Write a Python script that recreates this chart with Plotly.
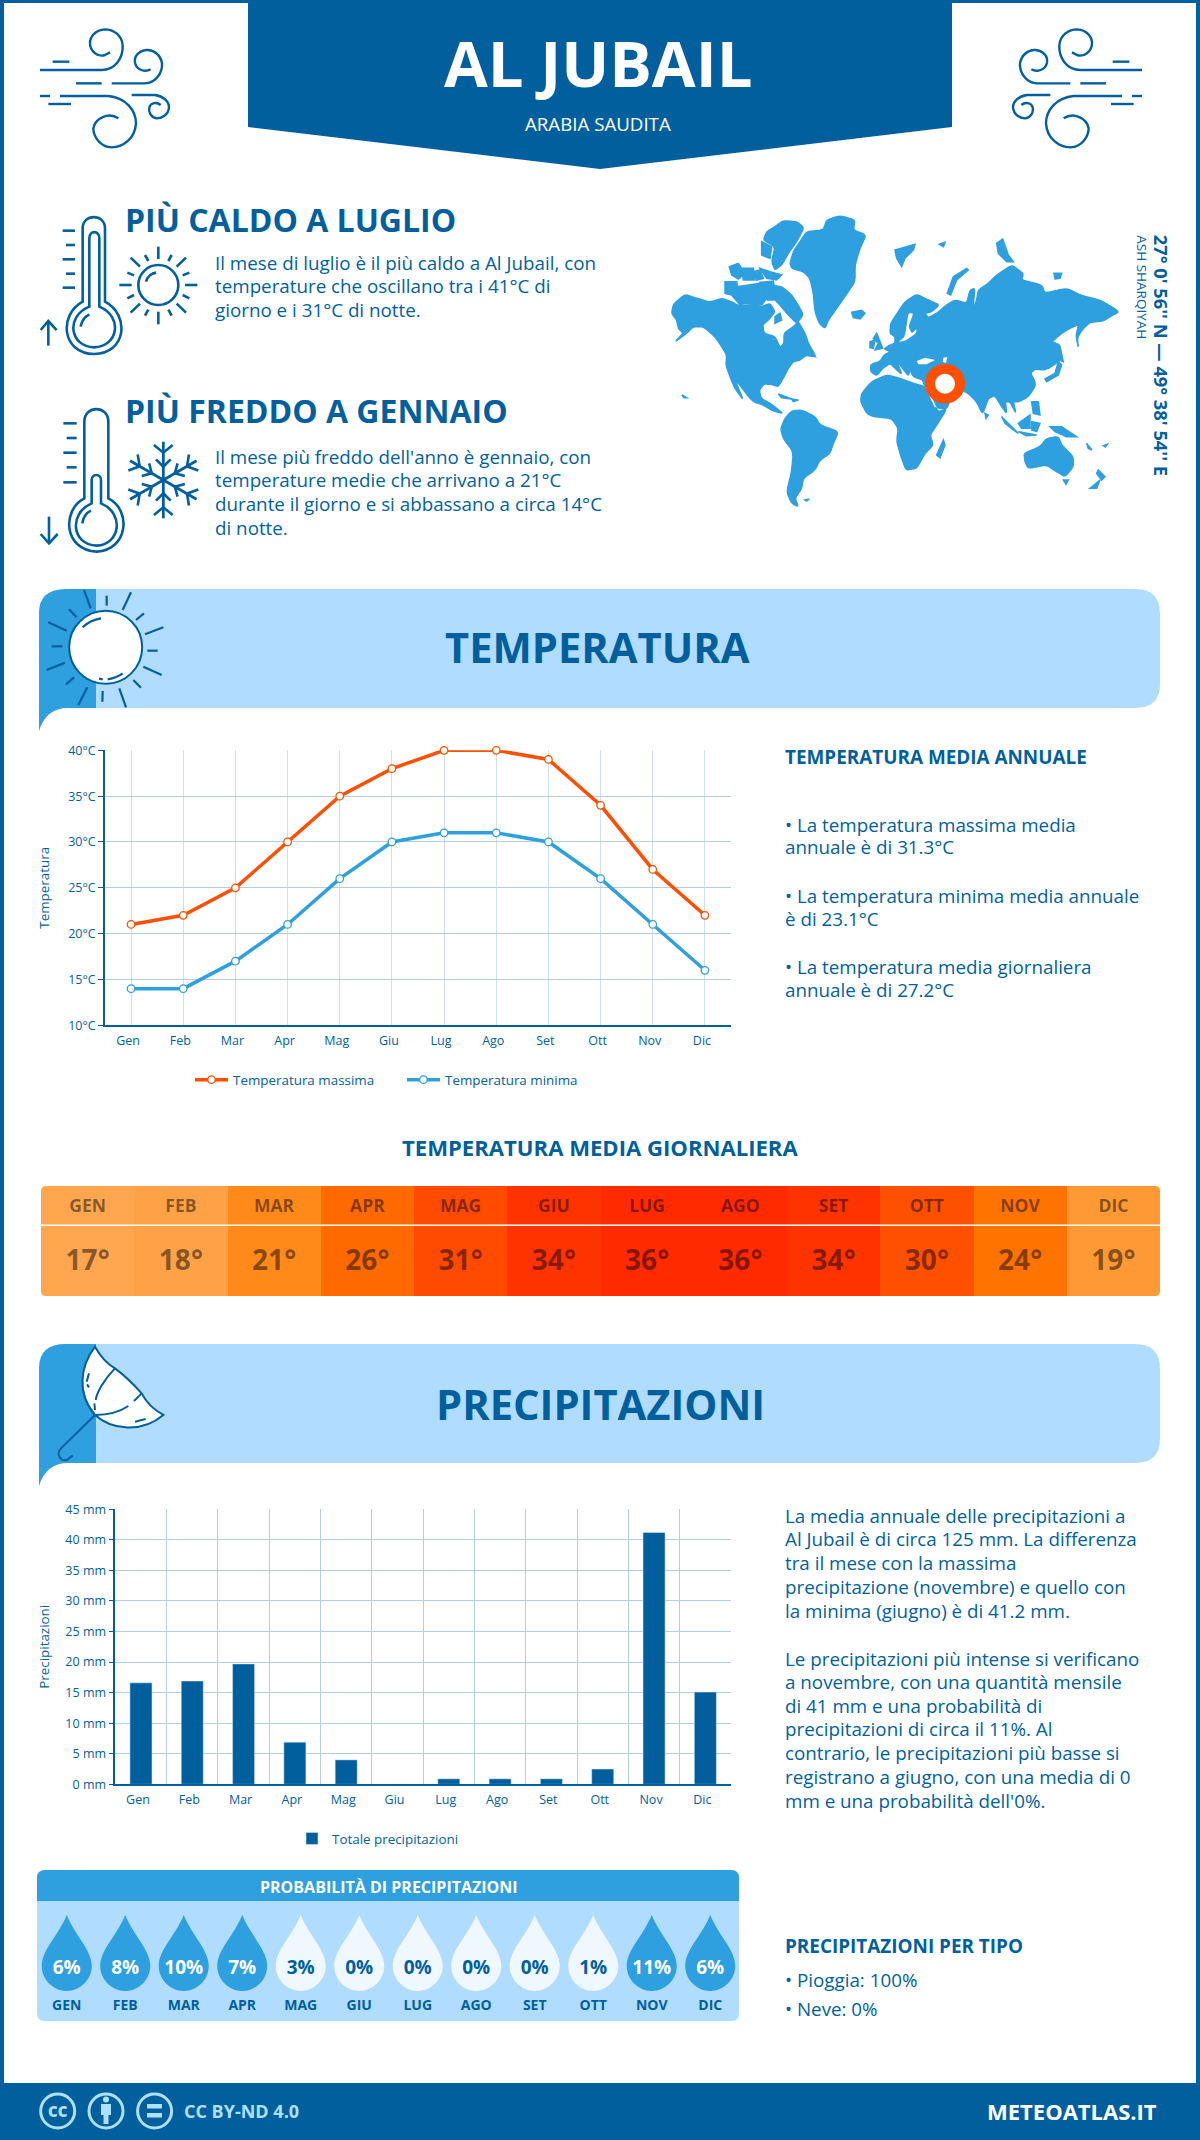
"""
Meteoatlas style climate poster for Al Jubail, drawn as one Plotly figure.
Charts use normal axes, everything decorative is paper shapes placed in pixels.
"""

import math
import re

import plotly.graph_objects as go

W, H = 1200, 2140
FONT = "Open Sans"
BLUE = "#015f9e"
MID = "#2e9fdf"
LIGHT = "#b0dcff"
PALE = "#eff7ff"
ORANGE = "#ff4f00"
GRID = "#b4cde0"
GRID_V = "#cde1ef"

# ---- data
months = ["Gen", "Feb", "Mar", "Apr", "Mag", "Giu", "Lug", "Ago", "Set", "Ott", "Nov", "Dic"]
months_upper = ["GEN", "FEB", "MAR", "APR", "MAG", "GIU", "LUG", "AGO", "SET", "OTT", "NOV", "DIC"]
temp_max = [21, 22, 25, 30, 35, 38, 40, 40, 39, 34, 27, 22]
temp_min = [14, 14, 17, 21, 26, 30, 31, 31, 30, 26, 21, 16]
temp_avg = [17, 18, 21, 26, 31, 34, 36, 36, 34, 30, 24, 19]
precip_mm = [16.6, 16.9, 19.7, 6.9, 4.0, 0, 0.9, 0.9, 0.9, 2.5, 41.2, 15.1]
precip_prob = [6, 8, 10, 7, 3, 0, 0, 0, 0, 1, 11, 6]
temp_ticks = [10, 15, 20, 25, 30, 35, 40]
precip_ticks = [0, 5, 10, 15, 20, 25, 30, 35, 40, 45]
# temperature -> cell colour of the daily strip
heat_temps = [17, 18, 19, 21, 24, 26, 30, 31, 34, 36]
heat_colors = ["#ffa64f", "#ffa247", "#ff9933", "#ff8a1a", "#ff7300",
               "#ff6a00", "#ff5000", "#ff4a00", "#ff3300", "#ff2a00"]

# ---- world map outlines, traced at 3x from the poster (origin 660,205)
land = [
    # north america
    "35,325 40,298 75,268 105,278 150,292 185,280 215,290 235,302 262,300 285,300 305,305 330,295 345,320 325,345 "
    "308,360 312,385 345,395 360,428 372,415 372,385 400,365 415,350 435,385 445,415 468,455 440,450 420,465 400,470 "
    "385,490 372,515 355,545 335,538 312,537 298,555 303,580 330,595 350,610 368,625 340,618 310,600 280,590 262,570 "
    "240,540 225,525 250,585 225,550 210,515 198,480 200,450 185,425 165,395 130,365 100,365 80,385 45,410 70,385 "
    "55,370 50,345",
    # arctic islands
    "320,80 345,65 370,47 410,50 432,68 410,110 385,145 365,180 345,195 335,170 345,125 310,105",
    "305,110 335,125 330,160 305,150",
    "195,230 230,230 235,260 270,290 240,300 215,270 195,265",
    "208,185 235,175 255,205 235,222 215,210",
    "280,200 300,195 310,220 290,225",
    "300,190 330,200 365,210 350,225 320,220",
    "230,245 300,235 320,280 305,300 250,295",
    "245,190 280,190 285,225 250,225",
    "300,232 340,228 350,285 322,285",
    "330,240 365,245 395,270 420,310 430,330 410,355 385,330 360,300 345,285",
    "345,335 360,325 365,345 345,355",
    "410,440 440,430 465,455 435,450",
    # greenland, iceland
    "390,175 400,140 420,110 440,80 490,75 500,45 540,32 585,45 580,75 618,90 600,130 585,180 585,230 565,260 "
    "530,310 505,345 495,370 478,355 465,320 460,265 450,220 430,200 395,190",
    "575,322 605,316 615,325 600,342 580,338",
    # caribbean and pacific specks
    "355,567 395,582 365,578",
    "395,582 415,585 400,590",
    "66,570 80,578 72,578",
    "1280,715 1296,735 1285,730",
    "1330,722 1342,718 1336,726",
    # south america
    "362,672 375,640 395,618 425,615 465,635 480,660 535,680 520,715 510,745 480,765 465,795 430,820 425,850 "
    "405,880 415,905 395,895 380,860 395,800 400,740 370,700",
    "435,885 448,882 440,888",
    # africa, madagascar
    "602,590 605,565 635,530 680,510 720,520 760,535 795,545 820,595 835,620 860,612 830,660 810,690 820,720 "
    "795,745 770,790 738,795 725,760 710,710 715,670 695,640 640,635 620,625",
    "830,750 850,705 855,720 840,758",
    # eurasia
    "632,500 632,478 660,470 672,450 692,440 672,432 690,420 705,415 705,395 690,385 692,355 715,320 735,290 "
    "770,268 805,285 838,300 815,320 795,325 805,338 830,325 860,300 885,285 920,295 930,255 945,250 938,318 "
    "950,285 955,255 985,235 1010,210 1055,180 1090,205 1085,225 1145,240 1155,265 1220,250 1265,272 1320,285 "
    "1378,320 1350,335 1330,348 1290,352 1268,372 1252,398 1255,428 1248,392 1256,358 1225,372 1205,385 1175,410 "
    "1200,420 1203,465 1165,490 1150,495 1125,492 1112,505 1125,530 1125,545 1105,575 1078,590 1060,590 1068,625 "
    "1050,590 1036,590 1040,625 1025,605 1005,572 985,580 968,628 950,590 925,565 905,555 870,585 860,612 828,608 "
    "812,580 795,545 788,525 760,515 750,495 745,512 728,490 708,465 726,508 705,490 690,475 668,490 650,512",
    # european and russian islands
    "650,385 668,430 645,435 655,415 640,400",
    "630,410 645,405 640,430 630,428",
    "862,265 880,215 920,190 925,195 890,225 872,270",
    "705,135 765,118 760,135 735,160 725,185 710,160",
    "838,118 855,112 850,125",
    "1010,115 1028,102 1045,150 1060,170 1040,170 1015,145",
    "1182,205 1205,205 1200,220 1185,222",
    # japan, philippines, indonesia
    "1155,522 1185,505 1195,470 1205,480 1195,510 1160,530",
    "1200,425 1210,470 1198,465",
    "1115,590 1135,590 1140,630 1120,625",
    "975,625 985,630 978,640",
    "1025,635 1050,660 1075,685 1060,675 1035,655",
    "1075,680 1130,690 1100,692",
    "1075,655 1110,630 1110,670 1085,670",
    "1115,650 1140,655 1130,680 1115,675",
    "1170,665 1205,665 1250,695 1220,695 1185,680",
    # oceania
    "1092,745 1140,725 1160,700 1195,695 1205,720 1240,755 1240,785 1215,815 1190,800 1160,780 1105,790 1095,770",
    "1210,825 1225,825 1218,838",
    "1315,795 1335,815 1325,825 1310,805",
    "1290,850 1320,825 1310,850",
]
seas = [
    "770,468 795,458 825,465 800,478 775,478",
    "850,458 862,456 858,475 848,470",
    "745,325 760,325 745,365 755,385 770,372 768,385 735,408 715,410 735,395",
    "795,546 803,550 830,608 824,606",
]

shapes = []
annotations = []


def fx(x):
    return x / W


def fy(y):
    return 1 - y / H


def svg(d, ox=0, oy=0, k=1, flip=None):
    """Turn a path written in poster pixels (or a scaled crop) into paper fractions."""
    state = {"is_x": True}

    def conv(m):
        v = float(m.group())
        if state["is_x"]:
            state["is_x"] = False
            x = ox + k * v
            if flip is not None:
                x = flip - x
            return f"{fx(x):.5f}"
        state["is_x"] = True
        return f"{fy(oy + k * v):.5f}"

    return re.sub(r"-?\d+\.?\d*", conv, d)


def add_path(d, fill=None, stroke=None, w=0, layer="below", **tf):
    shapes.append(dict(
        type="path", path=svg(d, **tf), xref="paper", yref="paper", layer=layer,
        fillcolor=fill or "rgba(0,0,0,0)",
        line=dict(color=stroke or "rgba(0,0,0,0)", width=w),
    ))


def add_circle(cx, cy, r, fill=None, stroke=BLUE, w=2, layer="below"):
    shapes.append(dict(
        type="circle", xref="paper", yref="paper", layer=layer,
        x0=fx(cx - r), x1=fx(cx + r), y0=fy(cy + r), y1=fy(cy - r),
        fillcolor=fill or "rgba(0,0,0,0)", line=dict(color=stroke, width=w),
    ))


def label(x, y, text, size, color=BLUE, weight=400, xanchor="left", yanchor="middle", angle=0):
    annotations.append(dict(
        xref="paper", yref="paper", x=fx(x), y=fy(y), text=text, showarrow=False,
        font=dict(family=FONT, size=size, color=color, weight=weight),
        xanchor=xanchor, yanchor=yanchor, textangle=angle,
    ))


def outline(pts):
    """Polygon path; longer coasts get slightly rounded corners, tips stay long."""
    p = [tuple(float(v) for v in s.split(",")) for s in pts.split()]
    if len(p) < 8:
        return "M" + " L".join(f"{x},{y}" for x, y in p) + " Z"
    n = len(p)
    parts = []
    for i in range(n):
        x, y = p[i]
        px, py = p[i - 1]
        qx, qy = p[(i + 1) % n]
        ax, ay = x + 0.25 * (px - x), y + 0.25 * (py - y)
        bx, by = x + 0.25 * (qx - x), y + 0.25 * (qy - y)
        parts.append(f"{'M' if i == 0 else 'L'}{ax:.1f},{ay:.1f} Q{x},{y} {bx:.1f},{by:.1f}")
    return " ".join(parts) + " Z"


def draw_wind(**tf):
    for d in [
        "M30,150 L215,150 C255,150 280,115 278,75 C275,45 250,28 225,28 C195,30 180,50 180,70 C180,95 205,112 225,105 L240,97",
        "M245,190 L345,190 C375,190 398,160 396,130 C392,105 370,88 350,90 C325,92 312,110 315,128 C320,150 345,158 362,148",
        "M90,228 L235,228 C285,232 318,270 318,310 C315,355 280,382 245,382 C210,380 190,350 190,325 C195,295 235,275 265,295",
        "M305,225 L375,225 C400,228 417,245 417,262 C415,285 395,295 380,295 C362,292 355,275 358,262 C362,248 380,245 392,255",
        "M68,125 L118,125", "M138,190 L215,190", "M30,228 L60,228", "M55,252 L123,252",
    ]:
        add_path(d, stroke=BLUE, w=2.4, ox=30, oy=20, k=1 / 3, **tf)


def draw_hot_icon():
    tf = dict(ox=30, oy=205, k=1 / 3)
    lines = [
        "M158,290 L158,70 C158,25 225,25 225,70 L225,290 C300,330 290,445 192,447 C95,445 85,330 158,290 Z",
        "M178,305 L178,100 C178,75 208,75 208,100 L208,305 C280,335 265,425 192,427 C120,425 105,335 178,305 Z",
        "M152,365 C155,345 165,335 178,328",
        "M98,77 L135,77", "M108,120 L135,120", "M98,163 L135,163", "M108,206 L135,206", "M98,248 L135,248",
        "M55,422 L55,348", "M32,375 L55,348 L80,375",
        "M348,230 C352,215 365,205 378,203",
    ]
    rays = ["385,125 385,162", "385,320 385,358", "268,240 305,240", "465,240 502,240",
            "302,158 330,185", "468,158 440,185", "302,323 330,296", "468,323 440,296",
            "345,150 355,168", "425,150 415,168", "292,203 312,211", "478,203 458,211",
            "292,280 312,270", "478,280 458,270", "345,332 355,314", "425,332 415,314"]
    for d in lines:
        add_path(d, stroke=BLUE, w=2.6, **tf)
    for r in rays:
        a, b = r.split()
        add_path(f"M{a} L{b}", stroke=BLUE, w=2.6, **tf)
    add_circle(30 + 385 / 3, 205 + 240 / 3, 20, stroke=BLUE, w=2.6)


def draw_cold_icon():
    tf = dict(ox=30, oy=400, k=1 / 3)
    for d in [
        "M163,295 L163,65 C163,15 235,15 235,65 L235,295 C305,330 295,450 200,455 C100,450 95,330 163,295 Z",
        "M185,310 L185,240 C185,220 213,220 213,240 L213,310 C285,340 270,435 200,437 C125,435 115,340 185,310 Z",
        "M157,370 C160,350 170,338 183,332",
        "M100,70 L140,70", "M110,114 L140,114", "M100,158 L140,158", "M110,202 L140,202", "M100,247 L140,247",
        "M57,350 L57,430", "M32,402 L57,430 L83,402",
    ]:
        add_path(d, stroke=BLUE, w=2.6, **tf)
    # snowflake, six identical arms
    for i in range(6):
        a = math.radians(60 * i)
        ux, uy = math.sin(a), -math.cos(a)

        def pt(u, v):
            return f"{400 + u * ux - v * uy:.1f},{240 + u * uy + v * ux:.1f}"

        add_path(f"M{pt(0, 0)} L{pt(115, 0)}", stroke=BLUE, w=2.8, **tf)
        add_path(f"M{pt(105, -28)} L{pt(82, 0)} L{pt(105, 28)}", stroke=BLUE, w=2.6, **tf)
        add_path(f"M{pt(62, -22)} L{pt(40, 0)} L{pt(62, 22)}", stroke=BLUE, w=2.6, **tf)


def section_banner(dy):
    """Rounded light band with the darker tab and its curled tail."""
    add_path("M96,589 L1135,589 Q1160,589 1160,614 L1160,684 Q1160,708 1135,708 L96,708 Z", fill=LIGHT, oy=dy)
    add_path("M39,731 L39,613 Q39,589 66,589 L96,589 L96,708 L68,708 Q46,708 39,731 Z", fill=MID, oy=dy)


def draw_banner_sun():
    tf = dict(ox=35, oy=585, k=1 / 3)
    rays = ["147,15 167,70", "215,32 215,62", "288,22 263,75", "327,85 303,105", "385,127 330,148",
            "368,197 337,197", "380,270 325,245", "318,308 295,285", "273,367 253,310", "202,350 203,318",
            "130,360 157,307", "93,298 117,277", "35,255 90,233", "50,184 82,184", "40,112 95,137",
            "102,73 125,97"]
    for r in rays:
        a, b = r.split()
        add_path(f"M{a} L{b}", stroke=BLUE, w=2.2, **tf)
    add_circle(35 + 212 / 3, 585 + 187 / 3, 36.5, fill="#ffffff", stroke=BLUE, w=2)
    for d in ["M143,127 C160,110 180,103 198,100", "M218,283 C235,280 250,275 263,265", "M192,281 L203,283"]:
        add_path(d, stroke=BLUE, w=2.2, **tf)


def draw_banner_umbrella():
    tf = dict(ox=35, oy=1340, k=1 / 3)
    add_path("M180,20 Q205,65 240,85 Q280,115 320,160 Q340,200 385,225 C320,280 230,270 180,225 "
             "C125,160 135,80 180,20 Z", fill="#ffffff", stroke=BLUE, w=2, **tf)
    for d in ["M240,85 C205,120 185,160 182,180", "M178,190 L180,210", "M320,160 L297,183",
              "M280,198 C255,215 220,225 180,225", "M162,100 L155,125", "M156,133 L162,142",
              "M300,245 L332,237", "M180,225 L78,325 C60,345 80,365 95,360 L113,347"]:
        add_path(d, stroke=BLUE, w=2, **tf)


def draw_drop(cx, color):
    add_path(f"M{cx},1915 C{cx + 8},1935 {cx + 25},1950 {cx + 25},1966 C{cx + 25},1980 {cx + 13},1991 {cx},1991 "
             f"C{cx - 13},1991 {cx - 25},1980 {cx - 25},1966 C{cx - 25},1950 {cx - 8},1935 {cx},1915 Z", fill=color)


def corner_masks(x0, y0, x1, y1, r):
    """White corners on top of the heat strip."""
    for cx, cy, sx, sy in [(x0, y0, 1, 1), (x1, y0, -1, 1), (x0, y1, 1, -1), (x1, y1, -1, -1)]:
        add_path(f"M{cx},{cy} L{cx + sx * r},{cy} Q{cx},{cy} {cx},{cy + sy * r} Z", fill="#ffffff", layer="above")


# ---- frame, header
add_path("M0,0 L1200,0 L1200,2140 L0,2140 L0,0 L4,3 L4,2083 L1196,2083 L1196,3 L4,3 Z", fill=BLUE)
add_path("M0,2083 L1200,2083 L1200,2140 L0,2140 Z", fill=BLUE)
add_path("M248,0 L952,0 L952,127 L600,169 L248,127 Z", fill=BLUE)
draw_wind()
draw_wind(flip=1182)
label(598.5, 62, "AL JUBAIL", 63.5, "#ffffff", 700, "center")
label(598, 123, "ARABIA SAUDITA", 18.7, "#ffffff", 400, "center")

# ---- hottest / coldest month
draw_hot_icon()
draw_cold_icon()
label(123, 219, "PIÙ CALDO A LUGLIO", 32, BLUE, 700)
label(123, 411, "PIÙ FREDDO A GENNAIO", 32, BLUE, 700)
for y, line in zip([263, 286, 310], ["Il mese di luglio è il più caldo a Al Jubail, con",
                                     "temperature che oscillano tra i 41°C di",
                                     "giorno e i 31°C di notte."]):
    label(213, y, line, 18.8)
for y, line in zip([457, 480, 504, 528], ["Il mese più freddo dell'anno è gennaio, con",
                                          "temperature medie che arrivano a 21°C",
                                          "durante il giorno e si abbassano a circa 14°C",
                                          "di notte."]):
    label(213, y, line, 18.8)

# ---- map
for pts in land:
    add_path(outline(pts), fill=MID, stroke=MID, w=1.5, ox=660, oy=205, k=1 / 3)
for pts in seas:
    add_path(outline(pts), fill="#ffffff", ox=660, oy=205, k=1 / 3)
add_circle(945, 383.7, 15, fill="#ffffff", stroke=ORANGE, w=10)
label(1161.7, 233, "27° 0' 56'' N — 49° 38' 54'' E", 18.3, BLUE, 700, "center", "top", 90)
label(1141.7, 233, "ASH SHARQIYAH", 13.5, BLUE, 400, "center", "top", 90)

# ---- temperature section
section_banner(0)
draw_banner_sun()
label(597.5, 647, "TEMPERATURA", 41.7, BLUE, 700, "center")
label(783, 757, "TEMPERATURA MEDIA ANNUALE", 18.9, BLUE, 700)
for y, line in zip([825, 847.5, 896, 919, 967, 990], ["• La temperatura massima media",
                                                      "annuale è di 31.3°C",
                                                      "• La temperatura minima media annuale",
                                                      "è di 23.1°C",
                                                      "• La temperatura media giornaliera",
                                                      "annuale è di 27.2°C"]):
    label(783, y, line, 18.8)
label(600, 1147, "TEMPERATURA MEDIA GIORNALIERA", 22.1, BLUE, 700, "center")

# ---- precipitation section
section_banner(755)
draw_banner_umbrella()
label(600, 1403, "PRECIPITAZIONI", 41.7, BLUE, 700, "center")
for y, line in zip([1516, 1539, 1563, 1587, 1611, 1658.5, 1682, 1706, 1729, 1753, 1777, 1801],
                   ["La media annuale delle precipitazioni a",
                    "Al Jubail è di circa 125 mm. La differenza",
                    "tra il mese con la massima",
                    "precipitazione (novembre) e quello con",
                    "la minima (giugno) è di 41.2 mm.",
                    "Le precipitazioni più intense si verificano",
                    "a novembre, con una quantità mensile",
                    "di 41 mm e una probabilità di",
                    "precipitazioni di circa il 11%. Al",
                    "contrario, le precipitazioni più basse si",
                    "registrano a giugno, con una media di 0",
                    "mm e una probabilità dell'0%."]):
    label(783, y, line, 18.8)
label(783, 1946, "PRECIPITAZIONI PER TIPO", 18.9, BLUE, 700)
label(783, 1980, "• Pioggia: 100%", 18.8)
label(783, 2009, "• Neve: 0%", 18.8)

# ---- rain probability panel
add_path("M37,1901 L739,1901 L739,2013 Q739,2021 731,2021 L45,2021 Q37,2021 37,2013 Z", fill=LIGHT)
add_path("M37,1901 L37,1878 Q37,1870 45,1870 L731,1870 Q739,1870 739,1878 L739,1901 Z", fill=MID)
label(389, 1887, "PROBABILITÀ DI PRECIPITAZIONI", 16, "#ffffff", 700, "center")
for i, p in enumerate(precip_prob):
    draw_drop(37.5 + (i + 0.5) * 58.5, MID if p >= 5 else PALE)

# ---- footer
for cx in [57.7, 106, 154.6]:
    add_circle(cx, 2111, 17, stroke="#aee0ff", w=3)
label(57.7, 2111, "CC", 15, "#aee0ff", 800, "center")
add_circle(106, 2099.5, 3, fill="#aee0ff", stroke="#aee0ff", w=0)
add_path("M101,2104 L111,2104 L111,2115 L108.5,2115 L108.5,2124 L103.5,2124 L103.5,2115 L101,2115 Z", fill="#aee0ff")
add_path("M147,2104 L162,2104 L162,2108.5 L147,2108.5 Z", fill="#aee0ff")
add_path("M147,2113 L162,2113 L162,2117.5 L147,2117.5 Z", fill="#aee0ff")
label(182, 2111, "CC BY-ND 4.0", 18, "#aee0ff", 700)
label(1159, 2111, "METEOATLAS.IT", 22, "#ffffff", 700, "right")

# ---- heat strip trims, drawn above the heatmap
corner_masks(41, 1186, 1160, 1296, 5)
shapes.append(dict(type="line", xref="paper", yref="paper", layer="above", x0=fx(41), x1=fx(1160),
                   y0=fy(1225.3), y1=fy(1225.3), line=dict(color="#ffffff", width=1.5)))

# ---- traces
fig = go.Figure()

fig.add_trace(go.Scatter(
    x=months, y=temp_max, name="Temperatura massima", mode="lines+markers", cliponaxis=False,
    line=dict(color=ORANGE, width=3.5), xaxis="x", yaxis="y", legend="legend",
    marker=dict(size=7.5, color="#ffffff", line=dict(color=ORANGE, width=1.3)),
))
fig.add_trace(go.Scatter(
    x=months, y=temp_min, name="Temperatura minima", mode="lines+markers", cliponaxis=False,
    line=dict(color=MID, width=3.5), xaxis="x", yaxis="y", legend="legend",
    marker=dict(size=7.5, color="#ffffff", line=dict(color=MID, width=1.3)),
))

fig.add_trace(go.Bar(
    x=months, y=precip_mm, name="Totale precipitazioni", marker_color=BLUE,
    xaxis="x2", yaxis="y2", legend="legend2",
))

t0, t1 = min(heat_temps), max(heat_temps)
fig.add_trace(go.Heatmap(
    z=[temp_avg], x=months_upper, y=[0.5], colorscale=[[(t - t0) / (t1 - t0), c] for t, c in zip(heat_temps, heat_colors)],
    zmin=t0, zmax=t1, showscale=False, hoverinfo="skip", xaxis="x3", yaxis="y3",
))
fig.add_trace(go.Scatter(
    x=months_upper, y=[0.80] * 12, text=months_upper, mode="text", showlegend=False,
    textfont=dict(family=FONT, size=17.5, color="rgba(0,0,0,0.48)", weight=700), xaxis="x3", yaxis="y3",
))
fig.add_trace(go.Scatter(
    x=months_upper, y=[0.30] * 12, text=[f"{t}°" for t in temp_avg], mode="text", showlegend=False,
    textfont=dict(family=FONT, size=28, color="rgba(0,0,0,0.48)", weight=700), xaxis="x3", yaxis="y3",
))

fig.add_trace(go.Scatter(
    x=months_upper, y=[0.43] * 12, text=[f"{p}%" for p in precip_prob], mode="text", showlegend=False,
    textfont=dict(family=FONT, size=19, weight=700, color=["#ffffff" if p >= 5 else BLUE for p in precip_prob]),
    xaxis="x4", yaxis="y4",
))
fig.add_trace(go.Scatter(
    x=months_upper, y=[0.125] * 12, text=months_upper, mode="text", showlegend=False,
    textfont=dict(family=FONT, size=14, weight=700, color=BLUE), xaxis="x4", yaxis="y4",
))

tick_font = dict(family=FONT, size=12.5, color=BLUE)
title_font = dict(family=FONT, size=13.4, color=BLUE)
hidden = dict(visible=False, fixedrange=True)

fig.update_layout(
    width=W, height=H, autosize=False, margin=dict(l=0, r=0, t=0, b=0, autoexpand=False),
    paper_bgcolor="#ffffff", plot_bgcolor="rgba(0,0,0,0)", font=dict(family=FONT, color=BLUE),
    shapes=shapes, annotations=annotations, bargap=0.57, hovermode=False,
    xaxis=dict(domain=[fx(105), fx(731)], anchor="y", type="category", range=[-0.5, 11.5],
               showgrid=True, gridcolor=GRID_V, gridwidth=0.8, ticks="", tickfont=tick_font,
               ticklabelshift=-3, ticklabelstandoff=3, showline=True, linecolor=BLUE, linewidth=1.5, zeroline=False),
    yaxis=dict(domain=[fy(1025.3), fy(750.3)], anchor="x", range=[10, 40], tickvals=temp_ticks,
               ticktext=[f"{t}°C" for t in temp_ticks], tickfont=tick_font, ticks="outside", ticklen=5,
               tickcolor=BLUE, gridcolor=GRID, gridwidth=1.2, showline=True, linecolor=BLUE, linewidth=1.5,
               zeroline=False, title=dict(text="Temperatura", font=title_font, standoff=16)),
    xaxis2=dict(domain=[fx(115.3), fx(731)], anchor="y2", type="category", range=[-0.5, 11.5], tickson="boundaries",
                showgrid=True, gridcolor=GRID, gridwidth=0.8, ticks="", tickfont=tick_font,
                ticklabelshift=-3, ticklabelstandoff=3, showline=True, linecolor=BLUE, linewidth=1.5, zeroline=False),
    yaxis2=dict(domain=[fy(1784.3), fy(1509.3)], anchor="x2", range=[0, 45], tickvals=precip_ticks,
                ticktext=[f"{t} mm" for t in precip_ticks], tickfont=tick_font, ticks="outside", ticklen=5,
                tickcolor=BLUE, gridcolor=GRID, gridwidth=1.2, showline=True, linecolor=BLUE, linewidth=1.5,
                zeroline=False, title=dict(text="Precipitazioni", font=title_font, standoff=13)),
    xaxis3=dict(domain=[fx(41), fx(1160)], anchor="y3", range=[-0.5, 11.5], **hidden),
    yaxis3=dict(domain=[fy(1296), fy(1186)], anchor="x3", range=[0, 1], **hidden),
    xaxis4=dict(domain=[fx(37.5), fx(739.5)], anchor="y4", range=[-0.5, 11.5], **hidden),
    yaxis4=dict(domain=[fy(2021), fy(1901)], anchor="x4", range=[0, 1], **hidden),
    legend=dict(orientation="h", x=fx(190), y=fy(1080), xanchor="left", yanchor="middle", itemwidth=33,
                entrywidth=164, entrywidthmode="pixels",
                font=dict(family=FONT, size=13.4, color=BLUE), itemclick=False),
    legend2=dict(orientation="h", x=fx(292), y=fy(1838.7), xanchor="left", yanchor="middle",
                 font=dict(family=FONT, size=13.4, color=BLUE), itemclick=False),
)

fig.write_html("out.html", config={"displayModeBar": False},
               post_script="document.body.style.margin='0';document.body.style.overflow='hidden';")
